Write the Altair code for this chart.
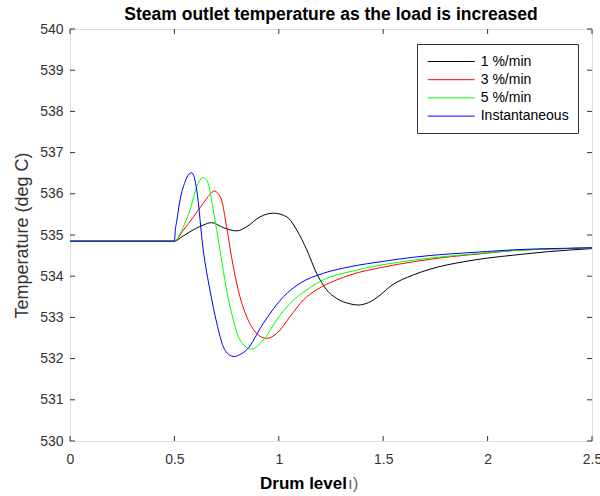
import altair as alt
import pandas as pd

series_names = ["1 %/min", "3 %/min", "5 %/min", "Instantaneous"]
series_colors = ["#000000", "#FF0000", "#00FF00", "#0000FF"]

x_1 = [0, 0.5, 0.54, 0.575, 0.638, 0.678, 0.734, 0.798, 0.846, 0.91, 0.974, 1.038, 1.086, 1.134, 1.181,
       1.229, 1.277, 1.341, 1.38, 1.43, 1.485, 1.533, 1.644, 1.724, 1.884, 2.0, 2.123, 2.3, 2.5]
y_1 = [534.85, 534.85, 534.97, 535.08, 535.24, 535.30, 535.18, 535.10, 535.20, 535.44, 535.53, 535.44, 535.12,
       534.64, 534.07, 533.67, 533.46, 533.33, 533.30, 533.36, 533.54, 533.75, 534.03, 534.17, 534.35, 534.44,
       534.51, 534.60, 534.67]

x_3 = [0, 0.5, 0.543, 0.591, 0.638, 0.67, 0.69, 0.71, 0.726, 0.75, 0.782, 0.814, 0.846, 0.894, 0.942, 0.99,
       1.054, 1.117, 1.181, 1.277, 1.341, 1.5, 1.644, 1.8, 2.0, 2.12, 2.3, 2.5]
y_3 = [534.85, 534.85, 535.12, 535.44, 535.77, 535.98, 536.07, 536.0, 535.85, 535.20, 534.23, 533.50, 533.02,
       532.61, 532.49, 532.61, 533.02, 533.42, 533.67, 533.91, 534.03, 534.22, 534.35, 534.46, 534.56, 534.62,
       534.66, 534.69]

x_5 = [0, 0.5, 0.543, 0.575, 0.607, 0.638, 0.662, 0.686, 0.718, 0.75, 0.782, 0.814, 0.87, 0.926, 0.99, 1.054,
       1.134, 1.229, 1.341, 1.5, 1.644, 2.0, 2.12, 2.3, 2.5]
y_5 = [534.85, 534.85, 535.20, 535.61, 536.17, 536.40, 536.25, 535.61, 534.64, 533.67, 532.94, 532.45, 532.23,
       532.45, 532.94, 533.34, 533.67, 533.95, 534.11, 534.28, 534.39, 534.57, 534.62, 534.66, 534.69]

x_inst = [0, 0.5, 0.505, 0.51, 0.527, 0.551, 0.57, 0.583, 0.595, 0.607, 0.638, 0.67, 0.703, 0.734, 0.76, 0.787,
          0.815, 0.846, 0.926, 1.022, 1.102, 1.213, 1.341, 1.5, 1.644, 2.0, 2.12, 2.3, 2.5]
y_inst = [534.85, 534.85, 535.15, 535.30, 535.85, 536.29, 536.48, 536.51, 536.40, 536.09, 534.64, 533.67, 532.86,
          532.29, 532.10, 532.05, 532.10, 532.21, 532.86, 533.50, 533.83, 534.07, 534.23, 534.36, 534.46, 534.60,
          534.64, 534.67, 534.69]

x_ticks = [0, 0.5, 1, 1.5, 2, 2.5]
y_ticks = [530, 531, 532, 533, 534, 535, 536, 537, 538, 539, 540]

rows = []
for name, xs, ys in zip(series_names, [x_1, x_3, x_5, x_inst], [y_1, y_3, y_5, y_inst]):
    for i, (a, b) in enumerate(zip(xs, ys)):
        rows.append({"series": name, "x": a, "y": b, "order": i})
df = pd.DataFrame(rows)
xt = pd.DataFrame({"x": x_ticks})
yt = pd.DataFrame({"y": y_ticks})

W, H = 522, 412
FONT = "Liberation Sans"
xs = alt.Scale(domain=[0, 2.5], nice=False, zero=False)
ys = alt.Scale(domain=[530, 540], nice=False, zero=False)

lines = alt.Chart(df).mark_line(strokeWidth=1, interpolate="monotone").encode(
    x=alt.X("x:Q", scale=xs,
            axis=alt.Axis(values=x_ticks, format="~g", tickSize=0, domain=False, grid=False, labelPadding=11,
                          labelFontSize=14, labelColor="#333333", labelFont=FONT,
                          labelFlush=False, title="Drum level", titleFontSize=17, titleFontWeight="bold",
                          titleFont=FONT, titleColor="#000000", titlePadding=9,
                          titleX=233, titleAlign="center")),
    y=alt.Y("y:Q", scale=ys,
            axis=alt.Axis(values=y_ticks, tickSize=0, domain=False, grid=False, labelPadding=7,
                          labelFontSize=14, labelColor="#333333", labelFont=FONT,
                          title="Temperature (deg C)", titleFontSize=18, titleFontWeight="normal",
                          titleFont=FONT, titleColor="#333333", titlePadding=8)),
    color=alt.Color("series:N",
                    scale=alt.Scale(domain=series_names, range=series_colors),
                    legend=alt.Legend(title=None, orient="none", legendX=347, legendY=15,
                                      symbolType="M-3,0H3", symbolSize=245, symbolStrokeWidth=1,
                                      symbolOffset=16.7,
                                      labelFontSize=14, labelFont=FONT, labelColor="#000000",
                                      labelOffset=21, rowPadding=2.2, padding=9,
                                      strokeColor="#333333", fillColor="#ffffff")),
    order="order:Q",
)

# remnant of the overwritten axis label in the original figure
remnant = alt.Chart(pd.DataFrame({"t": ["ı)"]})).mark_text(
    align="left", baseline="middle", fontSize=17, font=FONT, color="#666666"
).encode(text="t:N", x=alt.value(278), y=alt.value(455))

tick_len = 5
xt_bot = alt.Chart(xt).mark_rule(color="#333333", strokeWidth=1).encode(
    x=alt.X("x:Q", scale=xs), y=alt.value(H), y2=alt.value(H - tick_len))
xt_top = alt.Chart(xt).mark_rule(color="#333333", strokeWidth=1).encode(
    x=alt.X("x:Q", scale=xs), y=alt.value(0), y2=alt.value(tick_len))
yt_left = alt.Chart(yt).mark_rule(color="#333333", strokeWidth=1).encode(
    y=alt.Y("y:Q", scale=ys), x=alt.value(0), x2=alt.value(tick_len))
yt_right = alt.Chart(yt).mark_rule(color="#333333", strokeWidth=1).encode(
    y=alt.Y("y:Q", scale=ys), x=alt.value(W), x2=alt.value(W - tick_len))

chart = alt.layer(lines, xt_bot, xt_top, yt_left, yt_right, remnant).properties(
    width=W, height=H,
    title=alt.TitleParams("Steam outlet temperature as the load is increased", fontSize=17.5,
                          fontWeight="bold", font=FONT, color="#000000", offset=-1),
    autosize=alt.AutoSizeParams(type="none"),
    padding={"left": 70, "top": 29, "right": 8, "bottom": 55},
).configure_view(stroke="#333333", strokeWidth=1).configure(background="#ffffff")

chart.save("out.html", embed_options={"renderer": "svg", "actions": False})
